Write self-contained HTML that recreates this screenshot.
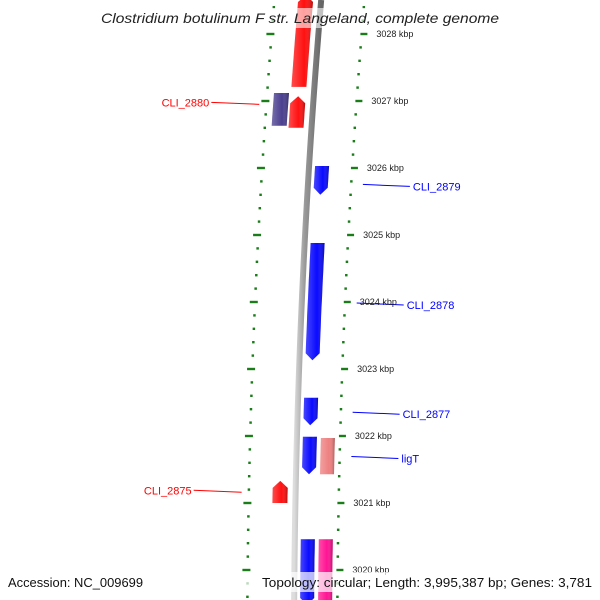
<!DOCTYPE html>
<html><head><meta charset="utf-8"><style>
html,body{margin:0;padding:0;background:#fff;width:600px;height:600px;overflow:hidden;}
svg{display:block;font-family:"Liberation Sans","DejaVu Sans",sans-serif;}
</style></head><body>
<svg id="map" width="600" height="600" viewBox="0 0 600 600">
<defs>
<linearGradient id="gBack" x1="0" x2="1" y1="0" y2="0"><stop offset="0" stop-color="#ddd"/><stop offset="0.4" stop-color="#999"/><stop offset="1" stop-color="#666"/></linearGradient>
<linearGradient id="shade" x1="0" x2="1" y1="0" y2="0"><stop offset="0" stop-color="#fff" stop-opacity="0.25"/><stop offset="0.6" stop-color="#fff" stop-opacity="0"/><stop offset="1" stop-color="#000" stop-opacity="0.3"/></linearGradient>
</defs>
<g id="ticks"></g>
<path id="backbone" fill="none" stroke="url(#gBack)" stroke-width="6"/>
<g id="genes"></g>
<g id="labels"></g>
<g id="kbp"></g>
<rect x="95" y="8" width="410" height="20" fill="#fff" opacity="0.6"/>
<text x="101" y="23" textLength="398" lengthAdjust="spacingAndGlyphs" font-size="14" font-style="italic" fill="#222">Clostridium botulinum F str. Langeland, complete genome</text>
<rect x="0" y="572" width="600" height="20" fill="#fff" opacity="0.7"/>
<text x="8" y="587" textLength="135" lengthAdjust="spacingAndGlyphs" font-size="13" fill="#111">Accession: NC_009699</text>
<text x="262" y="587" textLength="330" lengthAdjust="spacingAndGlyphs" font-size="13" fill="#111">Topology: circular; Length: 3,995,387 bp; Genes: 3,781</text>
</svg>
<script>
const geneNames = ["gene-top","gene-purple","CLI_2880","CLI_2879","CLI_2878","CLI_2877","ligT","ligT-partner","CLI_2875","gene-bottom","gene-bottom-partner"];
const geneStarts = [3027.21,3026.63,3026.60,3025.60,3023.13,3022.16,3021.43,3021.43,3021.00,3019.40,3019.40];
const geneEnds   = [3028.60,3027.12,3027.07,3026.03,3024.88,3022.57,3021.99,3021.97,3021.33,3020.46,3020.46];
const geneStrand = [1,0,1,-1,-1,-1,-1,0,1,-1,0];
const geneLane   = [1,2,1,1,1,1,1,2,1,1,2];
const geneColors = ["#ff1010","#4a3f8f","#ff1010","#0a0aff","#0a0aff","#0a0aff","#0a0aff","#ee8080","#ff1010","#0a0aff","#ff1493"];
const labelTexts = ["CLI_2880","CLI_2879","CLI_2878","CLI_2877","ligT","CLI_2875"];
const labelKbp = [3026.98,3025.74,3023.97,3022.34,3021.68,3021.19];
const labelSide = [-1,1,1,1,1,-1];
const labelColors = ["#ff0000","#0000ff","#0000ff","#0000ff","#0000ff","#ff0000"];
const kbpTicks = [3028,3027,3026,3025,3024,3023,3022,3021,3020];

const NS="http://www.w3.org/2000/svg";
const K=6.43e-5;
function yOf(kbp){return 34+(3028-kbp)*67;}
function xOf(y,off){return 294+K*(y-650)*(y-650)+off;}
function mk(tag,attrs,parent){const e=document.createElementNS(NS,tag);for(const a in attrs)e.setAttribute(a,attrs[a]);parent.appendChild(e);return e;}

let d="";for(let y=0;y<=600;y+=5){d+=(y===0?"M":"L")+xOf(y,0).toFixed(2)+","+y+" ";}
document.getElementById("backbone").setAttribute("d",d);

const tg=document.getElementById("ticks");
for(let i=0;i<=50;i++){
  const kb=3019+i*0.2;const y=yOf(kb);
  if(y<0||y>600)continue;
  const major=Math.abs(kb-Math.round(kb))<1e-6;
  const r=xOf(y,46);const l=xOf(y,-44);
  const t1=mk("line",{x1:r-4,x2:major?r+3:r-1.5,y1:y,y2:y,stroke:"#1a7d1a","stroke-width":2.4},tg);
  
  
  const t2=mk("line",{x1:major?l-8:l-4,x2:major?l:l-1.5,y1:y,y2:y,stroke:"#1a7d1a","stroke-width":2.4},tg);
  
  
}
const kg=document.getElementById("kbp");
kbpTicks.forEach(kb=>{const y=yOf(kb);
  const t=mk("text",{x:xOf(y,58).toFixed(1),y:y+3,"font-size":"9",fill:"#222"},kg);
  t.textContent=kb+" kbp";
  
  
});

const gg=document.getElementById("genes");
geneNames.forEach((n,i)=>{
  let o1,o2;
  if(geneStrand[i]===1||geneColors[i]==="#4a3f8f"){ if(geneLane[i]===1){o1=-23;o2=-8;}else{o1=-40;o2=-25;} }
  else { if(geneLane[i]===1){o1=6;o2=20;}else{o1=24;o2=38;} }
  const yTop=Math.max(-5,yOf(geneEnds[i])),yBot=Math.min(605,yOf(geneStarts[i]));
  const ah=7;
  let bt=yTop,bb=yBot;
  if(geneStrand[i]===1)bt=yTop+ah; if(geneStrand[i]===-1)bb=yBot-ah;
  const pts=[];
  const steps=Math.max(2,Math.ceil((bb-bt)/10));
  for(let s=0;s<=steps;s++){const y=bt+(bb-bt)*s/steps;pts.push([xOf(y,o1),y]);}
  if(geneStrand[i]===-1)pts.push([xOf(yBot,(o1+o2)/2),yBot]);
  for(let s=steps;s>=0;s--){const y=bt+(bb-bt)*s/steps;pts.push([xOf(y,o2),y]);}
  if(geneStrand[i]===1)pts.push([xOf(yTop,(o1+o2)/2),yTop]);
  const ps=pts.map(p=>p[0].toFixed(1)+","+p[1].toFixed(1)).join(" ");
  const g=mk("g",{},gg);
  
  
  mk("polygon",{points:ps,fill:geneColors[i]},g);
  mk("polygon",{points:ps,fill:"url(#shade)"},g);
});

const lg=document.getElementById("labels");
labelTexts.forEach((t,i)=>{
  const y=yOf(labelKbp[i]);
  const g=mk("g",{},lg);
  
  
  if(labelSide[i]===1){
    const x0=xOf(y,55);
    mk("line",{x1:x0,y1:y-1,x2:x0+47,y2:y+1,stroke:labelColors[i],"stroke-width":1},g);
    const tx=mk("text",{x:x0+50,y:y+5,"font-size":"11",fill:labelColors[i]},g);tx.textContent=t;
  } else {
    const x0=xOf(y,-54);
    mk("line",{x1:x0,y1:y+2,x2:x0-48,y2:y,stroke:labelColors[i],"stroke-width":1},g);
    const tx=mk("text",{x:x0-50,y:y+4,"font-size":"11",fill:labelColors[i],"text-anchor":"end"},g);tx.textContent=t;
  }
});
</script>
</body></html>
